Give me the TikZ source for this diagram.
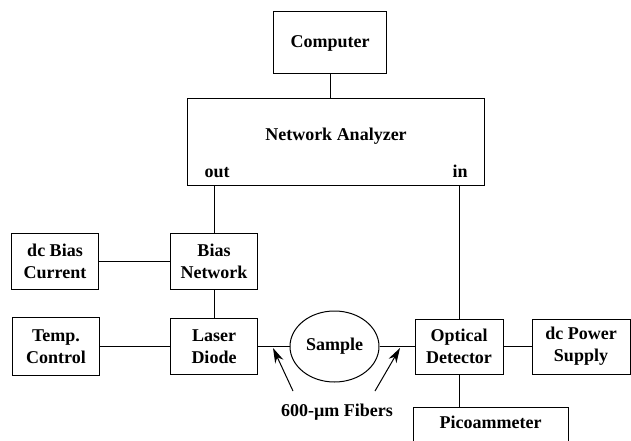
\documentclass[tikz,border=0pt]{standalone}
\usepackage{fontspec}
\setmainfont{Liberation Serif}
\usetikzlibrary{arrows.meta, shapes.geometric}
\begin{document}
\begin{tikzpicture}[x=1pt, y=-1pt, line width=1pt,
    every node/.style={font=\fontsize{18}{22}\selectfont\bfseries, align=center, inner sep=0pt},
    box/.style={draw, minimum width=87pt, minimum height=56pt},
    fiber/.style={-{Stealth[length=15pt, width=9pt]}}]
      \useasboundingbox (0,0) rectangle (631,441);

      % Computador e analisador
      \node[box, minimum width=113pt, minimum height=62pt] (comp) at (330,43) {Computer};
      \node[box, minimum width=297pt, minimum height=86pt] (na) at (336,142) {};
      \node[anchor=base] (natext) at (336,140) {Network Analyzer};
      \node[anchor=base] (out) at (217,177) {out};
      \node[anchor=base] (in) at (460,177) {in};

      % Lado do laser
      \node[box] (dcbias) at (55,261) {dc Bias\\Current};
      \node[box] (bias) at (214,261) {Bias\\Network};
      \node[box, minimum height=58pt] (temp) at (56,346.5) {Temp.\\Control};
      \node[box] (laser) at (214,346.5) {Laser\\Diode};

      % Amostra e detector
      \node[draw, ellipse, minimum width=89pt, minimum height=71pt] (sample) at (334.5,346.5) {Sample};
      \node[box, minimum width=88pt, minimum height=55pt] (od) at (459,346.5) {Optical\\Detector};
      \node[box, minimum width=98pt, minimum height=55pt] (dcps) at (581,346.5) {dc Power\\Supply};
      \node[box, minimum width=155pt, minimum height=66pt] (pico) at (490.5,440) {};
      \node[anchor=base] (picotext) at (490.5,428) {Picoammeter};

      % Fibras
      \node[anchor=base] (fib) at (337,416) {600-\textmu m Fibers};
      \coordinate (t1) at (293,391);
      \coordinate (h1) at (273,348);
      \coordinate (t2) at (375,391);
      \coordinate (h2) at (400,348);

      % Ligacoes
      \draw (comp.south) -- (comp.south |- na.north);
      \draw (bias) -- (bias |- na.south);
      \draw (od) -- (od |- na.south);
      \draw (dcbias) -- (bias);
      \draw (bias) -- (laser);
      \draw (temp) -- (laser);
      \draw (laser) -- (sample);
      \draw (sample) -- (od);
      \draw (od) -- (dcps);
      \draw (od.south) -- (od.south |- pico.north);
      \draw[fiber] (t1) -- (h1);
      \draw[fiber] (t2) -- (h2);

    \end{tikzpicture}
\end{document}
